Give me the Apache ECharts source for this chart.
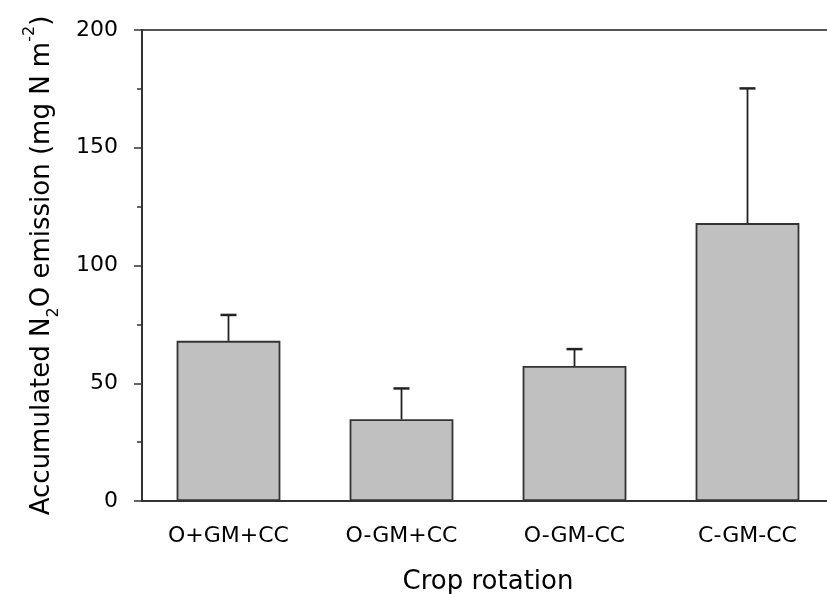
<!DOCTYPE html>
<html>
<head>
<meta charset="utf-8">
<script src="https://cdn.jsdelivr.net/npm/echarts@6/dist/echarts.min.js"></script>
<style>html,body{margin:0;padding:0;background:#fff}#c{width:827px;height:594px}</style>
</head>
<body>
<div id="c"></div>
<script>
var categories = ['O+GM+CC', 'O-GM+CC', 'O-GM-CC', 'C-GM-CC'];
var means = [68, 34.7, 57.3, 118];
var errorTops = [79, 47.8, 64.5, 175.2];
var yTicks = [0, 50, 100, 150, 200];

var FONT = 'DejaVu Sans';
var chart = echarts.init(document.getElementById('c'));
chart.setOption({
  animation: false,
  grid: {left: 142, top: 30, width: 692, height: 471, outerBoundsMode: 'none', containLabel: false, show: true, borderColor: '#555', borderWidth: 2, backgroundColor: 'transparent'},
  xAxis: {
    type: 'category',
    data: categories,
    name: 'Crop rotation',
    nameLocation: 'middle',
    nameGap: 68,
    nameTextStyle: {fontFamily: FONT, fontSize: 26, color: '#000'},
    axisLine: {lineStyle: {color: '#333', width: 2}},
    axisTick: {alignWithLabel: true, length: 8, lineStyle: {color: '#333', width: 1.5}},
    axisLabel: {fontFamily: FONT, fontSize: 22, color: '#000', margin: 24}
  },
  yAxis: {
    type: 'value',
    min: yTicks[0],
    max: yTicks[yTicks.length - 1],
    interval: 50,
    name: '{n|Accumulated N}{sub|2}{n|O emission (mg N m}{sup|-2}{n|)}',
    nameLocation: 'middle',
    nameRotate: 90,
    nameGap: 84,
    nameTextStyle: {
      fontFamily: FONT, fontSize: 26, color: '#000',
      rich: {
        n: {fontFamily: FONT, fontSize: 26, color: '#000', lineHeight: 32},
        sub: {fontFamily: FONT, fontSize: 16, color: '#000', verticalAlign: 'bottom', lineHeight: 32, padding: [0, 0, -4, 0]},
        sup: {fontFamily: FONT, fontSize: 16, color: '#000', verticalAlign: 'top', lineHeight: 32, padding: [-4, 0, 0, 0]}
      }
    },
    axisLine: {show: true, lineStyle: {color: '#333', width: 2}},
    axisTick: {show: true, length: 8, lineStyle: {color: '#333', width: 1.5}},
    minorTick: {show: true, splitNumber: 2, length: 5, lineStyle: {color: '#333', width: 1.5}},
    splitLine: {show: false},
    axisLabel: {fontFamily: FONT, fontSize: 22, color: '#000', margin: 24}
  },
  series: [
    {
      type: 'bar',
      data: means,
      barWidth: '60%',
      itemStyle: {color: '#c0c0c0', borderColor: '#333', borderWidth: 1.8},
      z: 2
    },
    {
      type: 'custom',
      data: categories.map(function (c, i) { return [i, means[i], errorTops[i]]; }),
      renderItem: function (params, api) {
        var base = api.coord([api.value(0), api.value(1)]);
        var top = api.coord([api.value(0), api.value(2)]);
        var hw = 8;
        return {
          type: 'group',
          children: [
            {type: 'line', shape: {x1: base[0], y1: base[1], x2: top[0], y2: top[1]}, style: {stroke: '#222', lineWidth: 1.8}},
            {type: 'line', shape: {x1: top[0] - hw, y1: top[1], x2: top[0] + hw, y2: top[1]}, style: {stroke: '#222', lineWidth: 2.5}}
          ]
        };
      },
      z: 3
    }
  ]
});
</script>
</body>
</html>
